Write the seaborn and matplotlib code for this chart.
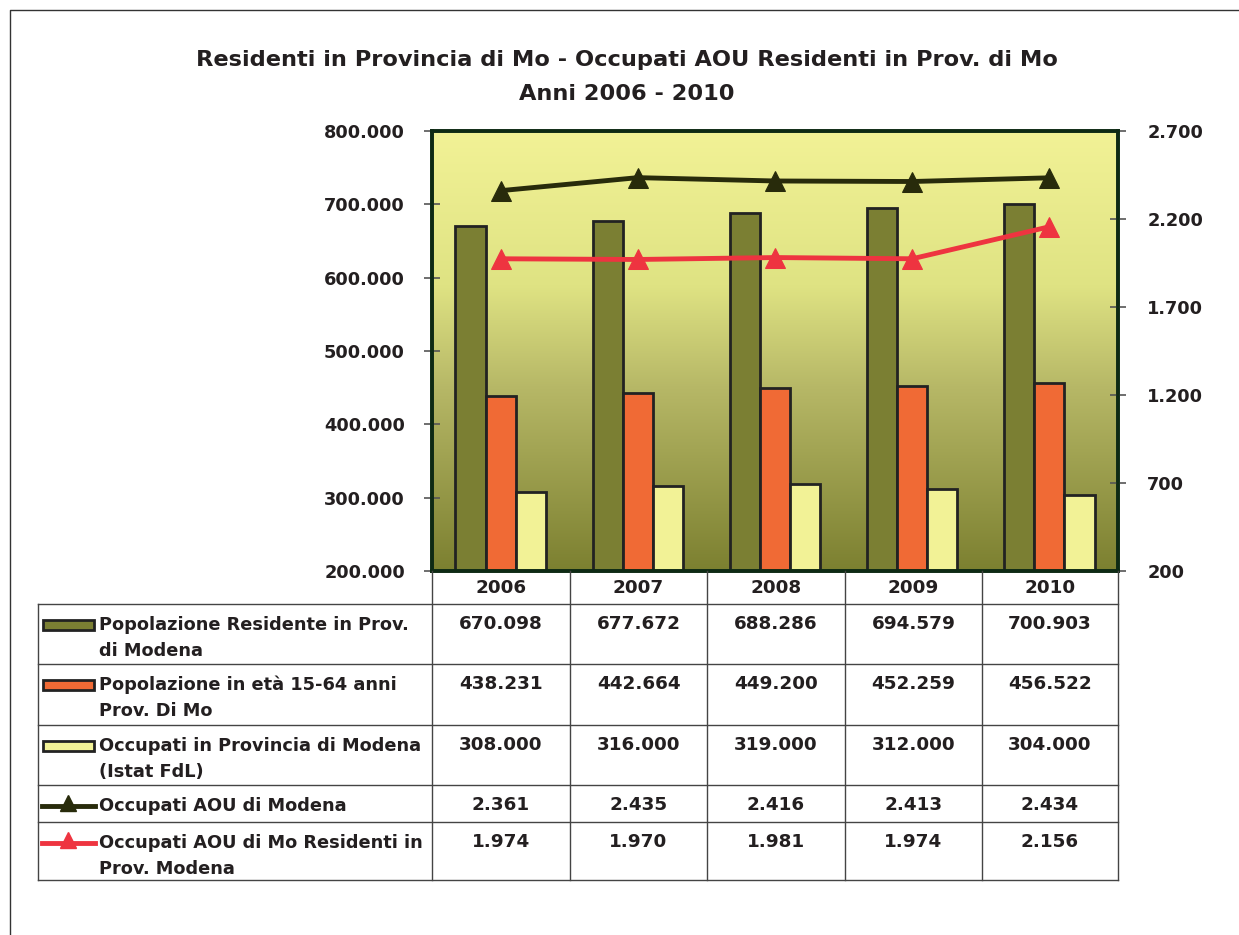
import numpy as np
import pandas as pd
import matplotlib
matplotlib.use("Agg")
import matplotlib.pyplot as plt
import seaborn as sns
from matplotlib.colors import LinearSegmentedColormap
from matplotlib.lines import Line2D
from matplotlib.patches import Rectangle
from matplotlib.ticker import FuncFormatter, FixedLocator

anni = ["2006", "2007", "2008", "2009", "2010"]
pop_residente = [670098, 677672, 688286, 694579, 700903]
pop_15_64 = [438231, 442664, 449200, 452259, 456522]
occupati_prov = [308000, 316000, 319000, 312000, 304000]
occupati_aou = [2361, 2435, 2416, 2413, 2434]
occupati_aou_res = [1974, 1970, 1981, 1974, 2156]

tick_sx = [200000, 300000, 400000, 500000, 600000, 700000, 800000]
tick_dx = [200, 700, 1200, 1700, 2200, 2700]

serie_barre = ["Popolazione Residente in Prov.\ndi Modena",
               "Popolazione in età 15-64 anni\nProv. Di Mo",
               "Occupati in Provincia di Modena\n(Istat FdL)"]
serie_linee = ["Occupati AOU di Modena",
               "Occupati AOU di Mo Residenti in\nProv. Modena"]

col_oliva = "#7B7F33"
col_arancio = "#F06A35"
col_giallo = "#F2F296"
col_nero = "#282B0B"
col_rosso = "#EE3440"
col_testo = "#231F20"

W, H = 1239, 935
fig = plt.figure(figsize=(W / 100, H / 100), dpi=100)
plt.rcParams['font.family'] = ['DejaVu Sans']


def fx(x):
    return x / W


def fy(y):
    return 1 - y / H


# area del grafico
ax = fig.add_axes([fx(432), fy(571), fx(1118) - fx(432), fy(131) - fy(571)])

grad = LinearSegmentedColormap.from_list(
    "sfondo", [(0.0, "#F2F296"), (0.35, "#DFE383"), (0.58, "#B7B867"), (1.0, "#7C8030")])
ax.imshow(np.linspace(0, 1, 256).reshape(-1, 1), cmap=grad, aspect="auto",
          extent=[0, 1, 0, 1], transform=ax.transAxes, zorder=0)

df = pd.DataFrame({
    "Anno": anni * 3,
    "serie": np.repeat(serie_barre, len(anni)),
    "valore": pop_residente + pop_15_64 + occupati_prov,
})
sns.barplot(data=df, x="Anno", y="valore", hue="serie", hue_order=serie_barre,
            palette=[col_oliva, col_arancio, col_giallo], saturation=1,
            width=0.66, edgecolor="#222222", linewidth=2, legend=False, ax=ax, zorder=2)
ax.set_xlim(-0.5, len(anni) - 0.5)
ax.set_ylim(tick_sx[0], tick_sx[-1])
ax.yaxis.set_major_locator(FixedLocator(tick_sx))
fmt = FuncFormatter(lambda v, p: f"{v:,.0f}".replace(",", "."))
ax.yaxis.set_major_formatter(fmt)
ax.set_xlabel("")
ax.set_ylabel("")
ax.tick_params(axis="x", bottom=False, labelbottom=False)
ax.tick_params(axis="y", direction="inout", length=12, width=1.2, color="#555555",
               labelsize=12.8, pad=13.5, labelcolor=col_testo)
for lab in ax.get_yticklabels():
    lab.set_fontweight("bold")

ax2 = ax.twinx()
pos = np.arange(len(anni))
sns.lineplot(x=pos, y=occupati_aou, color=col_nero, lw=3.5, marker="^", ms=15,
             markeredgecolor=col_nero, ax=ax2, zorder=3)
sns.lineplot(x=pos, y=occupati_aou_res, color=col_rosso, lw=3.5, marker="^", ms=15,
             markeredgecolor=col_rosso, ax=ax2, zorder=3)
ax2.set_ylim(tick_dx[0], tick_dx[-1])
ax2.yaxis.set_major_locator(FixedLocator(tick_dx))
ax2.yaxis.set_major_formatter(fmt)
ax2.tick_params(axis="y", direction="inout", length=12, width=1.2, color="#555555",
                labelsize=12.8, pad=15, labelcolor=col_testo)
for lab in ax2.get_yticklabels():
    lab.set_fontweight("bold")
ax2.set_ylabel("")
for a in (ax, ax2):
    for s in a.spines.values():
        s.set_color("#0E2A14")
        s.set_linewidth(2.6)

# titolo
fig.text(fx(627), fy(60), "Residenti in Provincia di Mo - Occupati AOU Residenti in Prov. di Mo",
         ha="center", va="center", fontsize=16.2, fontweight="bold", color=col_testo)
fig.text(fx(627), fy(94), "Anni 2006 - 2010", ha="center", va="center",
         fontsize=16.2, fontweight="bold", color=col_testo)

# cornice esterna
fig.add_artist(Line2D([fx(10), fx(10), fx(W)], [fy(H), fy(10), fy(10)],
                      color="#333333", lw=1))

# tabella dati
cols = [432, 570, 707, 845, 982, 1118]
rows = [604, 664, 725, 785, 822, 880]
gc = "#444444"

for c in cols:
    fig.add_artist(Line2D([fx(c), fx(c)], [fy(571), fy(880)], color=gc, lw=1))
fig.add_artist(Line2D([fx(38), fx(38)], [fy(604), fy(880)], color=gc, lw=1))
for r in rows:
    fig.add_artist(Line2D([fx(38), fx(1118)], [fy(r), fy(r)], color=gc, lw=1))

for i, a in enumerate(anni):
    fig.text(fx((cols[i] + cols[i + 1]) / 2), fy(588), a, ha="center", va="center",
             fontsize=13.2, fontweight="bold", color=col_testo)

valori = [pop_residente, pop_15_64, occupati_prov, occupati_aou, occupati_aou_res]
etichette = serie_barre + serie_linee
colori = [col_oliva, col_arancio, col_giallo, col_nero, col_rosso]
for k, (lab, vals) in enumerate(zip(etichette, valori)):
    y0 = rows[k]
    fig.text(fx(99), fy(y0 + 12), lab, ha="left", va="top",
             fontsize=12.8, fontweight="bold", color=col_testo, linespacing=1.55)
    for i, v in enumerate(vals):
        fig.text(fx((cols[i] + cols[i + 1]) / 2), fy(y0 + 11), fmt(v, None),
                 ha="center", va="top", fontsize=13.2, fontweight="bold", color=col_testo)
    yc = y0 + 21
    if k < 3:
        fig.add_artist(Rectangle((fx(43), fy(yc + 5)), fx(94) - fx(43), fy(yc - 5) - fy(yc + 5),
                                 facecolor=colori[k], edgecolor="#222222", lw=2,
                                 transform=fig.transFigure))
    else:
        fig.add_artist(Line2D([fx(42), fx(95)], [fy(yc), fy(yc)], color=colori[k], lw=3.5))
        fig.add_artist(Line2D([fx(68)], [fy(yc - 3)], color=colori[k], marker="^", ms=12, lw=0))

fig.savefig("out.png", dpi=100)
